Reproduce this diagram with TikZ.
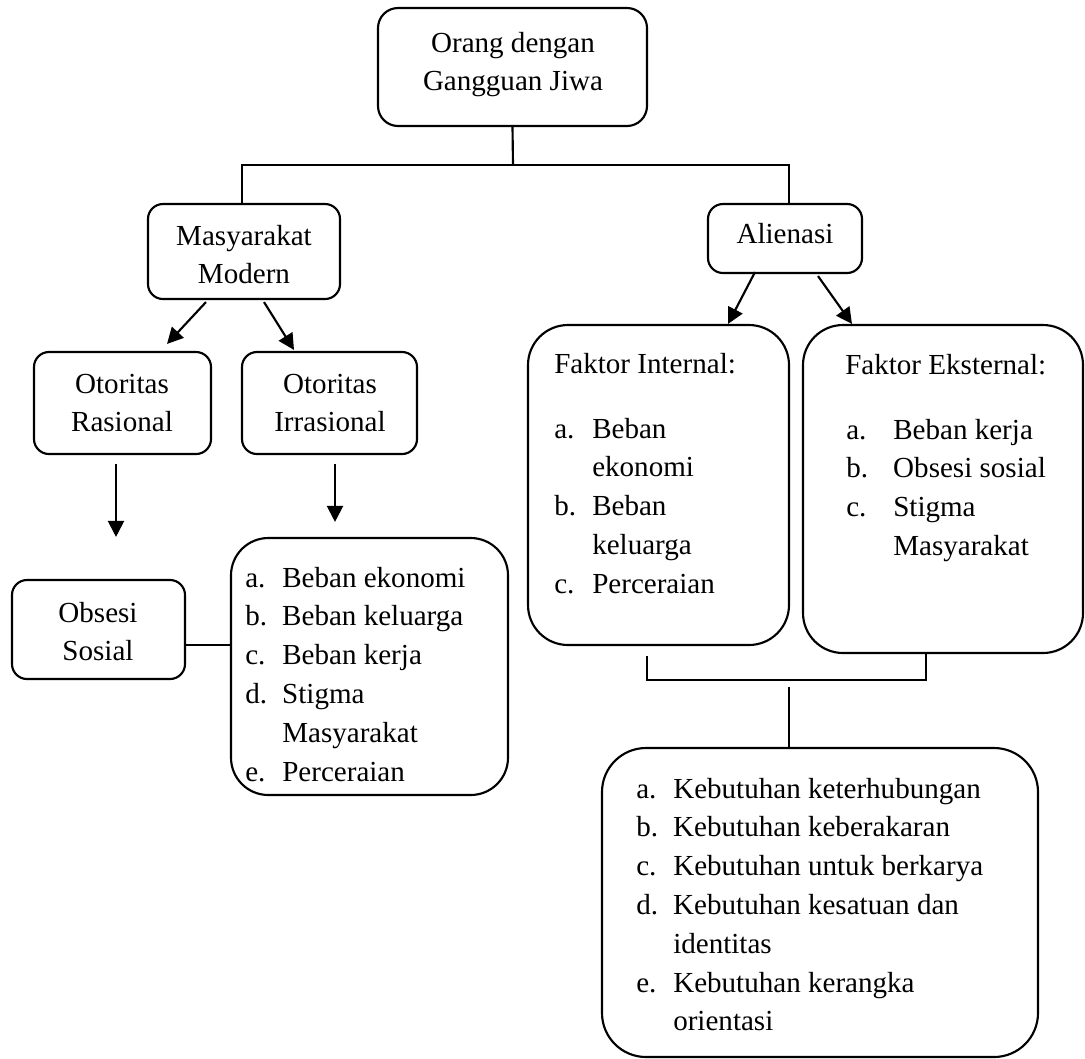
\documentclass[tikz,border=0pt]{standalone}
\usepackage{fontspec}
\setmainfont{Liberation Serif}
\usetikzlibrary{arrows.meta,calc,fit}
\newcommand{\itm}[3][27.75pt]{\makebox[#1][l]{#2}#3}
\begin{document}
\begin{tikzpicture}[x=0.75pt,y=-0.75pt,
  every node/.style={font=\fontsize{21.8}{29.1}\selectfont},
  box/.style={draw, line width=1.6pt, inner sep=0pt, rounded corners=#1},
  box/.default=11.25pt,
  txt/.style={inner sep=0pt, anchor=base},
  lsttxt/.style={inner sep=0pt, anchor=base west},
  conn/.style={line width=1.6pt},
  arr/.style={conn, -{Triangle[length=12pt,width=12pt]}}]
\useasboundingbox (0,0) rectangle (1085,1058);

% boxes
\node[box=15pt, fit={(378,8) (647,126)}] (top) {};
\node[box, fit={(148,204) (340,299)}] (mas) {};
\node[box, fit={(34,352) (211,454)}] (otr) {};
\node[box, fit={(242,352) (417,454)}] (oti) {};
\node[box, fit={(12,580) (185,679)}] (obs) {};
\node[box=28pt, fit={(231,538) (508,795)}] (lst) {};
\node[box, fit={(708,204) (862,273)}] (ali) {};
\node[box=30pt, fit={(528,325) (789,645)}] (fi) {};
\node[box=30pt, fit={(803,325) (1083,653)}] (fe) {};
\node[box=33pt, fit={(602,748) (1038,1057)}] (kb) {};

% texts
\node[txt] (ttop) at (513,52) {\begin{tabular}[t]{@{}c@{}}Orang dengan\\Gangguan Jiwa\end{tabular}};
\node[txt] (tmas) at (244,245) {\begin{tabular}[t]{@{}c@{}}Masyarakat\\Modern\end{tabular}};
\node[txt] (totr) at (122,393) {\begin{tabular}[t]{@{}c@{}}Otoritas\\Rasional\end{tabular}};
\node[txt] (toti) at (330,393) {\begin{tabular}[t]{@{}c@{}}Otoritas\\Irrasional\end{tabular}};
\node[txt] (tobs) at (98,622) {\begin{tabular}[t]{@{}c@{}}Obsesi\\Sosial\end{tabular}};
\node[txt] (tali) at (785,243) {Alienasi};
\node[lsttxt] (tlst) at (245,587) {\begin{tabular}[t]{@{}l@{}}
\itm{a.}{Beban ekonomi}\\
\itm{b.}{Beban keluarga}\\
\itm{c.}{Beban kerja}\\
\itm{d.}{Stigma}\\
\itm{}{Masyarakat}\\
\itm{e.}{Perceraian}\end{tabular}};
\node[lsttxt] (hfi) at (554,373) {Faktor Internal:};
\node[lsttxt] (tfi) at (554,438) {\begin{tabular}[t]{@{}l@{}}
\itm[28.5pt]{a.}{Beban}\\
\itm[28.5pt]{}{ekonomi}\\
\itm[28.5pt]{b.}{Beban}\\
\itm[28.5pt]{}{keluarga}\\
\itm[28.5pt]{c.}{Perceraian}\end{tabular}};
\node[lsttxt] (hfe) at (845,374) {Faktor Eksternal:};
\node[lsttxt] (tfe) at (846,439) {\begin{tabular}[t]{@{}l@{}}
\itm[35.25pt]{a.}{Beban kerja}\\
\itm[35.25pt]{b.}{Obsesi sosial}\\
\itm[35.25pt]{c.}{Stigma}\\
\itm[35.25pt]{}{Masyarakat}\end{tabular}};
\node[lsttxt] (tkb) at (636,798) {\begin{tabular}[t]{@{}l@{}}
\itm{a.}{Kebutuhan keterhubungan}\\
\itm{b.}{Kebutuhan keberakaran}\\
\itm{c.}{Kebutuhan untuk berkarya}\\
\itm{d.}{Kebutuhan kesatuan dan}\\
\itm{}{identitas}\\
\itm{e.}{Kebutuhan kerangka}\\
\itm{}{orientasi}\end{tabular}};

% connectors
\coordinate (j1) at (513,165);
\draw[conn] (top.south) -- (j1);
\draw[conn] ($(mas.north)+(-2,0)$) |- (j1) -| ($(ali.north)+(4,0)$);
\draw[arr] ($(mas.south)+(-38,2)$) -- ($(otr.north)+(44.5,-7)$);
\draw[arr] ($(mas.south)+(20,2)$) -- ($(oti.north)+(-35.5,-1)$);
\draw[arr] ($(otr.south)+(-6.5,9)$) -- ($(obs.north)+(17.5,-42)$);
\draw[arr] ($(oti.south)+(5.5,9)$) -- ($(lst.north)+(-34.5,-15)$);
\draw[conn] ($(obs.east)+(0,15.5)$) -- ($(lst.west)+(0,-21.5)$);
\draw[arr] ($(ali.south)+(-30,-2)$) -- ($(fi.north)+(69.5,0)$);
\draw[arr] ($(ali.south)+(33,2)$) -- ($(fe.north)+(-91,0)$);
\draw[conn] ($(fi.south)+(-11.5,10)$) |- ($(fe.south)+(-17,26)$) -- ($(fe.south)+(-17,0)$);
\draw[conn] ($(kb.north)+(-31,-60)$) -- (kb.north -| 789,0);
\end{tikzpicture}
\end{document}
